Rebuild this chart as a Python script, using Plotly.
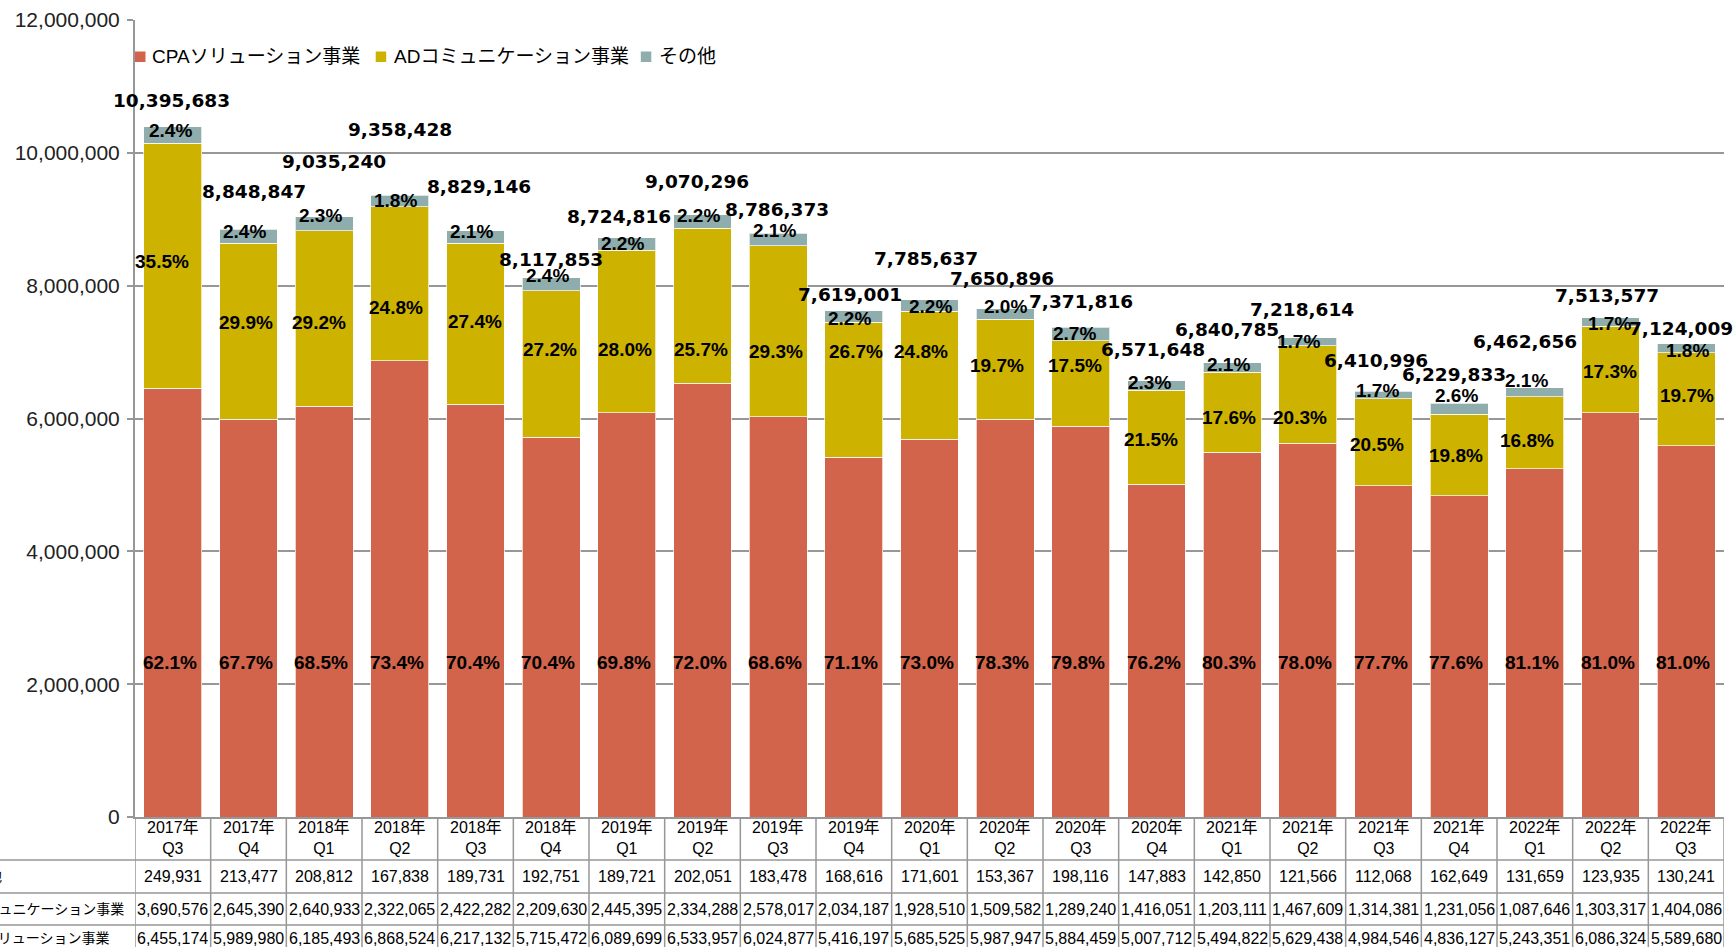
import plotly.graph_objects as go

# ---------------- data ----------------
years = ["2017年", "2017年", "2018年", "2018年", "2018年", "2018年", "2019年", "2019年", "2019年",
         "2019年", "2020年", "2020年", "2020年", "2020年", "2021年", "2021年", "2021年", "2021年",
         "2022年", "2022年", "2022年"]
quarters = ["Q3", "Q4", "Q1", "Q2", "Q3", "Q4", "Q1", "Q2", "Q3", "Q4", "Q1", "Q2", "Q3", "Q4",
            "Q1", "Q2", "Q3", "Q4", "Q1", "Q2", "Q3"]

series_names = ["CPAソリューション事業", "ADコミュニケーション事業", "その他"]

cpa = [6455174, 5989980, 6185493, 6868524, 6217132, 5715472, 6089699, 6533957, 6024877, 5416197,
       5685525, 5987947, 5884459, 5007712, 5494822, 5629438, 4984546, 4836127, 5243351, 6086324,
       5589680]
ad = [3690576, 2645390, 2640933, 2322065, 2422282, 2209630, 2445395, 2334288, 2578017, 2034187,
      1928510, 1509582, 1289240, 1416051, 1203111, 1467609, 1314381, 1231056, 1087646, 1303317,
      1404086]
other = [249931, 213477, 208812, 167838, 189731, 192751, 189721, 202051, 183478, 168616, 171601,
         153367, 198116, 147883, 142850, 121566, 112068, 162649, 131659, 123935, 130241]
totals = [10395683, 8848847, 9035240, 9358428, 8829146, 8117853, 8724816, 9070296, 8786373,
          7619001, 7785637, 7650896, 7371816, 6571648, 6840785, 7218614, 6410996, 6229833,
          6462656, 7513577, 7124009]

cpa_pct = ["62.1%", "67.7%", "68.5%", "73.4%", "70.4%", "70.4%", "69.8%", "72.0%", "68.6%", "71.1%",
           "73.0%", "78.3%", "79.8%", "76.2%", "80.3%", "78.0%", "77.7%", "77.6%", "81.1%", "81.0%",
           "81.0%"]
ad_pct = ["35.5%", "29.9%", "29.2%", "24.8%", "27.4%", "27.2%", "28.0%", "25.7%", "29.3%", "26.7%",
          "24.8%", "19.7%", "17.5%", "21.5%", "17.6%", "20.3%", "20.5%", "19.8%", "16.8%", "17.3%",
          "19.7%"]
other_pct = ["2.4%", "2.4%", "2.3%", "1.8%", "2.1%", "2.4%", "2.2%", "2.2%", "2.1%", "2.2%", "2.2%",
             "2.0%", "2.7%", "2.3%", "2.1%", "1.7%", "1.7%", "2.6%", "2.1%", "1.7%", "1.8%"]

# ---------------- styling / label placement (pixels) ----------------
colors = ["#D2644B", "#CDB300", "#8FADAC"]
tot_dy = [26, 38, 55, 66, 44, 18, 21, 33, 24, 16, 41, 30, 26, 31, 33, 28, 31, 29, 46, 22, 15]
tot_dx = [-1, 5, 10, 0, 3, 0, -8, -6, -1, -4, -4, -3, 0, -4, -5, -6, -8, -5, -10, -4, -5]
oth_dy = [4, 2, -1, 5, 1, -2, 6, 1, -3, 8, 7, -2, 6, 2, 2, 4, -1, -8, -7, 6, 7]
oth_dx = [-2, -4, -4, -4, -4, -4, -4, -4, -4, -4, 1, 0, -6, -7, -4, -9, -6, -3, -8, -1, 1]
ad_dy = [-4, -9, 4, 24, -2, -15, 18, 44, 20, -38, -24, -4, -18, 2, 5, 23, 2, 1, 8, 2, -4]
ad_dx = [-11, -3, -5, -4, -1, -1, -2, -2, -2, 2, -9, -8, -6, -6, -3, -8, -7, -3, -8, -1, 1]
CPA_LABEL_LEVEL = 2.32e6
ROW_Y = [876, 909, 938]            # table row text centres (px)
ROW_HEAD_RIGHT = [4, 126, 111]     # right edge of the (clipped) row headers (px)

W, H = 1733, 947
L, R, T, B = 135, 9, 20, 130
PW, PH = W - L - R, H - T - B

def px(x):
    return (x - L) / PW

def py(y):
    return (T + PH - y) / PH

BASE = "Arial, 'Liberation Sans', 'Noto Sans CJK JP', sans-serif"
PCT = "Arial, 'Liberation Sans', sans-serif"
WIDE = "Verdana, 'DejaVu Sans', sans-serif"
GRID = "#979797"
PCT_FONT = dict(family=PCT, size=19, color="black", weight="bold")

cats = [f"{y}{q}" for y, q in zip(years, quarters)]

fig = go.Figure()
for name, vals, col in zip(series_names, [cpa, ad, other], colors):
    fig.add_trace(go.Bar(x=cats, y=vals, name=name, marker=dict(color=col,
                         line=dict(color="rgba(255,255,255,0.7)", width=1)),
                         showlegend=False, hoverinfo="x+y+name"))

ann = []
shapes = []
for i, c in enumerate(cats):
    top = cpa[i] + ad[i] + other[i]
    ann.append(dict(x=c, y=top, xref="x", yref="y", text=f"{totals[i]:,}", showarrow=False,
                    xanchor="center", yanchor="middle", yshift=tot_dy[i], xshift=tot_dx[i],
                    font=dict(family=WIDE, size=18.5, color="black", weight="bold")))
    ann.append(dict(x=c, y=top, xref="x", yref="y", text=other_pct[i], showarrow=False,
                    xanchor="center", yanchor="middle", yshift=-oth_dy[i], xshift=oth_dx[i],
                    font=PCT_FONT))
    ann.append(dict(x=c, y=cpa[i] + ad[i] / 2, xref="x", yref="y", text=ad_pct[i], showarrow=False,
                    xanchor="center", yanchor="middle", yshift=-ad_dy[i], xshift=ad_dx[i],
                    font=PCT_FONT))
    ann.append(dict(x=c, y=CPA_LABEL_LEVEL, xref="x", yref="y", text=cpa_pct[i], showarrow=False,
                    xanchor="center", yanchor="middle", xshift=-3, font=PCT_FONT))
    # data table cells
    ann.append(dict(x=c, y=py(838), xref="x", yref="paper", text=f"{years[i]}<br>{quarters[i]}",
                    showarrow=False, xanchor="center", yanchor="middle",
                    font=dict(family=BASE, size=16, color="black")))
    for yy, vals in zip(ROW_Y, [other, ad, cpa]):
        ann.append(dict(x=c, y=py(yy), xref="x", yref="paper", text=f"{vals[i]:,}",
                        showarrow=False, xanchor="center", yanchor="middle",
                        font=dict(family=BASE, size=16, color="black")))

# table row headers (cut off at the left edge of the picture, as in the reference)
for yy, xr, name in zip(ROW_Y, ROW_HEAD_RIGHT, ["その他", series_names[1], series_names[0]]):
    ann.append(dict(x=px(xr), y=py(yy), xref="paper", yref="paper", text=name, showarrow=False,
                    xanchor="right", yanchor="middle",
                    font=dict(family=BASE, size=14, color="black")))

# table lines
for k in range(len(cats) + 1):
    shapes.append(dict(type="line", xref="x", yref="paper", x0=k - 0.5, x1=k - 0.5,
                       y0=py(817), y1=py(960), line=dict(color=GRID, width=1.5)))
for yy in [860, 893, 925]:
    shapes.append(dict(type="line", xref="paper", yref="paper", x0=px(0), x1=1,
                       y0=py(yy), y1=py(yy), line=dict(color=GRID, width=1.5)))

# legend (top-left, inside plot)
leg_sq = [135, 375.7, 640.8]
leg_tx = [150, 392, 656.5]
for name, col, sx, tx in zip(series_names, colors, leg_sq, leg_tx):
    shapes.append(dict(type="rect", xref="paper", yref="paper", x0=px(sx), x1=px(sx + 10.5),
                       y0=py(62), y1=py(51.5), fillcolor=col, line=dict(width=0)))
    ann.append(dict(x=px(tx), y=py(56.5), xref="paper", yref="paper", text=name, showarrow=False,
                    xanchor="left", yanchor="middle",
                    font=dict(family=BASE, size=19, color="black")))

fig.update_layout(
    width=W, height=H, margin=dict(l=L, r=R, t=T, b=B, pad=0),
    barmode="stack", bargap=0.237,
    plot_bgcolor="white", paper_bgcolor="white",
    annotations=ann, shapes=shapes,
    font=dict(family=BASE, color="black"),
    xaxis=dict(type="category", range=[-0.5, len(cats) - 0.5], showticklabels=False,
               showline=True, linecolor=GRID, linewidth=2, ticks="", showgrid=False,
               fixedrange=True),
    yaxis=dict(range=[0, 12e6], dtick=2e6, tick0=0, tickformat=",d", showgrid=True,
               gridcolor=GRID, gridwidth=1.5, showline=True, linecolor=GRID, linewidth=2,
               ticks="outside", ticklen=6, tickcolor=GRID, tickwidth=1.5,
               ticklabelstandoff=3, zeroline=False,
               tickfont=dict(family=BASE, size=21, color="#222222"), fixedrange=True),
)

fig.write_html("out.html", config={"displayModeBar": False},
               post_script="document.body.style.margin='0';document.body.style.overflow='hidden';")
